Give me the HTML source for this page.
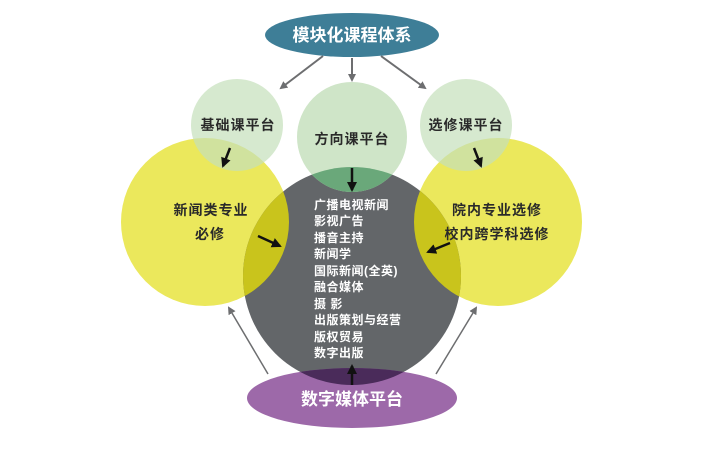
<!DOCTYPE html>
<html><head><meta charset="utf-8"><style>
html,body{margin:0;padding:0;background:#fff;}
svg text{font-family:"Liberation Sans","Noto Sans CJK SC",sans-serif;font-weight:bold;}
</style></head><body>
<svg width="728" height="445" viewBox="0 0 728 445" xmlns="http://www.w3.org/2000/svg">
<defs>
<marker id="ga" markerWidth="8" markerHeight="8" refX="6" refY="4" orient="auto" markerUnits="userSpaceOnUse"><path d="M0,0 L8,4 L0,8 Z" fill="#6d6e70"/></marker>
<marker id="ba" markerWidth="10" markerHeight="10" refX="8" refY="5" orient="auto" markerUnits="userSpaceOnUse"><path d="M0,0 L10,5 L0,10 Z" fill="#111"/></marker>
<clipPath id="gc"><circle cx="352" cy="276" r="109"/></clipPath>
<clipPath id="yc"><circle cx="205" cy="222" r="84"/><circle cx="498" cy="222" r="84"/></clipPath>
</defs>
<rect width="728" height="445" fill="#fff"/>
<circle cx="205" cy="222" r="84" fill="#ebe85c"/>
<circle cx="498" cy="222" r="84" fill="#ebe85c"/>
<circle cx="352" cy="276" r="109" fill="#636669"/>
<g clip-path="url(#gc)">
<circle cx="205" cy="222" r="84" fill="#c9c41c"/>
<circle cx="498" cy="222" r="84" fill="#c9c41c"/>
</g>
<!-- greens -->
<circle cx="237" cy="125" r="46" fill="#c4e0bb" opacity="0.7"/>
<circle cx="352" cy="137" r="55" fill="#cfe5c8"/>
<circle cx="466" cy="125" r="46" fill="#c4e0bb" opacity="0.7"/>
<g clip-path="url(#gc)">
<circle cx="352" cy="137" r="55" fill="#6aa87a"/>
</g>
<ellipse cx="352" cy="398" rx="105" ry="30" fill="#9d69a9"/>
<g clip-path="url(#gc)"><ellipse cx="352" cy="398" rx="105" ry="30" fill="#4a2b5a"/></g>
<ellipse cx="352" cy="35" rx="87" ry="22" fill="#3e7e97"/>
<text x="352" y="41" fill="#fff" font-size="17" text-anchor="middle" font-family="'Liberation Serif','Noto Serif CJK SC',serif">模块化课程体系</text>
<line x1="323" y1="56" x2="281" y2="88" stroke="#6d6e70" stroke-width="2" marker-end="url(#ga)"/>
<line x1="352" y1="58" x2="352" y2="80" stroke="#6d6e70" stroke-width="2" marker-end="url(#ga)"/>
<line x1="381" y1="56" x2="425" y2="88" stroke="#6d6e70" stroke-width="2" marker-end="url(#ga)"/>
<line x1="268" y1="374" x2="229" y2="308" stroke="#6d6e70" stroke-width="1.5" marker-end="url(#ga)"/>
<line x1="436" y1="374" x2="476" y2="308" stroke="#6d6e70" stroke-width="1.5" marker-end="url(#ga)"/>
<line x1="230" y1="148" x2="223" y2="166" stroke="#111" stroke-width="2.5" marker-end="url(#ba)"/>
<line x1="352" y1="168" x2="352" y2="190" stroke="#111" stroke-width="2.5" marker-end="url(#ba)"/>
<line x1="474" y1="148" x2="481" y2="166" stroke="#111" stroke-width="2.5" marker-end="url(#ba)"/>
<line x1="258" y1="236" x2="280" y2="246" stroke="#111" stroke-width="2.5" marker-end="url(#ba)"/>
<line x1="450" y1="243" x2="428" y2="252" stroke="#111" stroke-width="2.5" marker-end="url(#ba)"/>
<line x1="352" y1="385" x2="352" y2="366" stroke="#111" stroke-width="2.5" marker-end="url(#ba)"/>
<g font-size="14" fill="#2a2a2a" text-anchor="middle" letter-spacing="1">
<text x="238" y="130">基础课平台</text>
<text x="352" y="144">方向课平台</text>
<text x="466" y="130">选修课平台</text>
<text x="211" y="215">新闻类专业</text>
<text x="210" y="239">必修</text>
<text x="497" y="215">院内专业选修</text>
<text x="497" y="239">校内跨学科选修</text>
</g>
<g font-size="12" fill="#fff" letter-spacing="0.5">
<text x="314" y="209">广播电视新闻</text>
<text x="314" y="225">影视广告</text>
<text x="314" y="242">播音主持</text>
<text x="314" y="258">新闻学</text>
<text x="314" y="275">国际新闻(全英)</text>
<text x="314" y="291">融合媒体</text>
<text x="314" y="308">摄 影</text>
<text x="314" y="324">出版策划与经营</text>
<text x="314" y="341">版权贸易</text>
<text x="314" y="357">数字出版</text>
</g>
<text x="352" y="405" fill="#fff" font-size="17" text-anchor="middle" font-family="'Liberation Serif','Noto Serif CJK SC',serif">数字媒体平台</text>
</svg>
</body></html>
